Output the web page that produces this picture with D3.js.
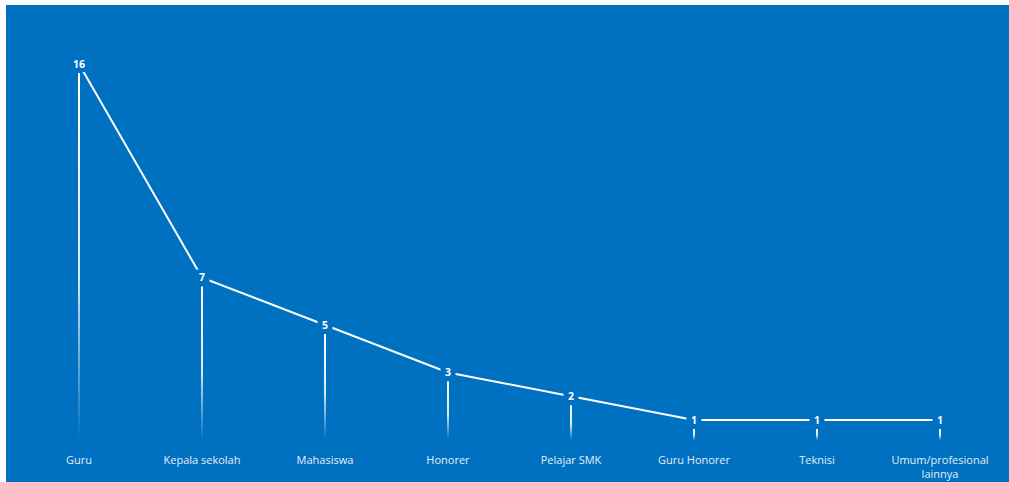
<!DOCTYPE html>
<html>
<head>
<meta charset="utf-8">
<script src="https://cdn.jsdelivr.net/npm/d3@7"></script>
<style>
  html, body { margin: 0; padding: 0; background: #fff; }
  #chart { width: 1009px; height: 482px; }
  svg { display: block; }
</style>
</head>
<body>
<div id="chart"></div>
<script>
// chart data
const categories = ["Guru", "Kepala sekolah", "Mahasiswa", "Honorer", "Pelajar SMK", "Guru Honorer", "Teknisi", "Umum/profesional lainnya"];
const values = [16, 7, 5, 3, 2, 1, 1, 1];

const W = 1009, H = 482;
const bg = "#0070c0";

const svg = d3.select("#chart").append("svg")
  .attr("width", W)
  .attr("height", H);

svg.append("rect")
  .attr("x", 6).attr("y", 5)
  .attr("width", W - 6).attr("height", H - 5)
  .attr("fill", bg);

const defs = svg.append("defs");
const grad = defs.append("linearGradient")
  .attr("id", "drop")
  .attr("x1", 0).attr("y1", 0).attr("x2", 0).attr("y2", 1);
grad.append("stop").attr("offset", "0%").attr("stop-color", "#fff").attr("stop-opacity", 1);
grad.append("stop").attr("offset", "55%").attr("stop-color", "#fff").attr("stop-opacity", 0.85);
grad.append("stop").attr("offset", "100%").attr("stop-color", "#fff").attr("stop-opacity", 0);

const x = d3.scaleBand()
  .domain(categories)
  .range([17.5, 1001.5]);

const y = d3.scaleLinear()
  .domain([0, 16])
  .range([443.7, 64]);

const data = categories.map((c, i) => ({ cat: c, val: values[i] }));
const cx = d => x(d.cat) + x.bandwidth() / 2;

// drop lines
svg.append("g")
  .selectAll("rect")
  .data(data)
  .join("rect")
  .attr("x", d => cx(d) - 1)
  .attr("y", d => y(d.val) + 9)
  .attr("width", 2)
  .attr("height", d => Math.max(0, 440 - (y(d.val) + 9)))
  .attr("fill", "url(#drop)");

// line
svg.append("path")
  .datum(data)
  .attr("fill", "none")
  .attr("stroke", "#fff")
  .attr("stroke-width", 2)
  .attr("d", d3.line().x(cx).y(d => y(d.val)));

// value labels with masking background
const lab = svg.append("g")
  .selectAll("g")
  .data(data)
  .join("g")
  .attr("transform", d => `translate(${cx(d)},${y(d.val)})`);

lab.append("rect")
  .attr("x", d => -(String(d.val).length * 3.5 + 4))
  .attr("y", -8)
  .attr("width", d => String(d.val).length * 7 + 8)
  .attr("height", 16)
  .attr("fill", bg);

lab.append("text")
  .attr("text-anchor", "middle")
  .attr("dy", "0.36em")
  .attr("fill", "#fff")
  .style("font-family", "'Open Sans', sans-serif")
  .style("font-size", "10.5px")
  .style("font-weight", "bold")
  .text(d => d.val);

// category labels
const catText = svg.append("g")
  .selectAll("text")
  .data(data)
  .join("text")
  .attr("x", cx)
  .attr("y", 464)
  .attr("text-anchor", "middle")
  .attr("fill", "#e6eef8")
  .style("font-family", "'Open Sans', sans-serif")
  .style("font-size", "11px");

catText.each(function (d) {
  const t = d3.select(this);
  const lines = d.cat === "Umum/profesional lainnya" ? ["Umum/profesional", "lainnya"] : [d.cat];
  lines.forEach((l, i) => {
    t.append("tspan").attr("x", cx(d)).attr("dy", i === 0 ? 0 : "1.25em").text(l);
  });
});
</script>
</body>
</html>
